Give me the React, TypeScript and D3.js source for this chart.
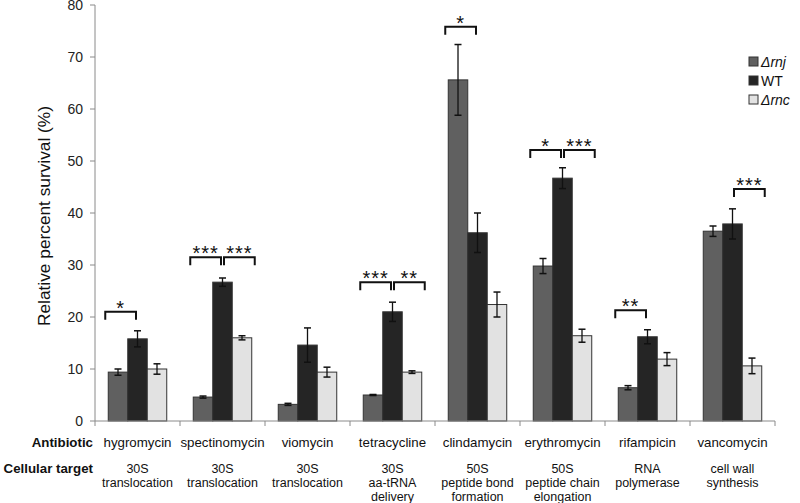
import * as d3 from 'd3'

// antibiotics along the x axis
const antibiotics = ['hygromycin', 'spectinomycin', 'viomycin', 'tetracycline', 'clindamycin', 'erythromycin', 'rifampicin', 'vancomycin']
const targets = [
  ['30S', 'translocation'],
  ['30S', 'translocation'],
  ['30S', 'translocation'],
  ['30S', 'aa-tRNA', 'delivery'],
  ['50S', 'peptide bond', 'formation'],
  ['50S', 'peptide chain', 'elongation'],
  ['RNA', 'polymerase'],
  ['cell wall', 'synthesis'],
]

const strains = ['rnj', 'WT', 'rnc']
const strainColors = ['#606060', '#252525', '#e2e2e2']

// mean survival (%) per strain
const rnjValues = [9.4, 4.6, 3.2, 5.0, 65.6, 29.8, 6.4, 36.5]
const wtValues = [15.8, 26.7, 14.6, 21.0, 36.2, 46.7, 16.2, 37.9]
const rncValues = [10.0, 16.0, 9.4, 9.4, 22.4, 16.4, 11.9, 10.6]

// error (+/-) per strain
const rnjErrors = [0.6, 0.2, 0.2, 0.1, 6.8, 1.45, 0.4, 1.0]
const wtErrors = [1.55, 0.8, 3.3, 1.85, 3.8, 2.0, 1.35, 2.9]
const rncErrors = [1.0, 0.4, 0.95, 0.25, 2.4, 1.25, 1.25, 1.5]

// significance brackets: group index, side (L = rnj vs WT, R = WT vs rnc), height, label
const brackets: [number, 'L' | 'R', number, string][] = [
  [0, 'L', 21.0, '*'],
  [1, 'L', 31.5, '***'],
  [1, 'R', 31.5, '***'],
  [3, 'L', 26.7, '***'],
  [3, 'R', 26.7, '**'],
  [4, 'L', 75.8, '*'],
  [5, 'L', 52.1, '*'],
  [5, 'R', 52.1, '***'],
  [6, 'L', 21.3, '**'],
  [7, 'R', 44.6, '***'],
]

const yTicks = [0, 10, 20, 30, 40, 50, 60, 70, 80]

const values = [rnjValues, wtValues, rncValues]
const errors = [rnjErrors, wtErrors, rncErrors]

export default function App() {
  const left = 95
  const right = 775
  const top = 5
  const bottom = 421
  const font = '"Liberation Sans", Arial, sans-serif'

  const x = d3.scaleBand<string>().domain(antibiotics).range([left, right]).paddingInner(0).paddingOuter(0)
  const inner = d3.scaleBand<string>().domain(strains).range([0, x.bandwidth()]).paddingOuter(0.68).paddingInner(0)
  const y = d3.scaleLinear().domain([0, 80]).range([bottom, top])
  const bw = inner.bandwidth()

  return (
    <svg width={800} height={503} style={{ position: 'absolute', left: 0, top: 0, background: '#fff' }} fontFamily={font}>
      {/* y axis */}
      <line x1={left} x2={left} y1={top} y2={bottom} stroke="#8a8a8a" strokeWidth={1} />
      {yTicks.map(t => (
        <g key={t}>
          <line x1={left - 5} x2={left} y1={y(t)} y2={y(t)} stroke="#8a8a8a" />
          <text x={left - 12} y={y(t) + 5} textAnchor="end" fontSize={14} fill="#222">{t}</text>
        </g>
      ))}
      <text transform={`translate(50,216) rotate(-90)`} textAnchor="middle" fontSize={17.3} fill="#111">
        Relative percent survival (%)
      </text>

      {/* bars */}
      {antibiotics.map((a, i) => (
        <g key={a} transform={`translate(${x(a)},0)`}>
          {strains.map((s, k) => {
            const v = values[k][i]
            const e = errors[k][i]
            const bx = inner(s)!
            const cx = bx + bw / 2
            return (
              <g key={s}>
                <rect x={bx} y={y(v)} width={bw} height={y(0) - y(v)} fill={strainColors[k]} stroke="#333" strokeWidth={1} />
                <line x1={cx} x2={cx} y1={y(v + e)} y2={y(v - e)} stroke="#111" strokeWidth={1.3} />
                <line x1={cx - 3.5} x2={cx + 3.5} y1={y(v + e)} y2={y(v + e)} stroke="#111" strokeWidth={1.5} />
                <line x1={cx - 3.5} x2={cx + 3.5} y1={y(v - e)} y2={y(v - e)} stroke="#111" strokeWidth={1.5} />
              </g>
            )
          })}
        </g>
      ))}

      {/* x axis */}
      <line x1={left} x2={right} y1={bottom} y2={bottom} stroke="#8a8a8a" />
      {antibiotics.concat(['']).map((a, i) => {
        const tx = i < antibiotics.length ? x(a)! : right
        return <line key={i} x1={tx} x2={tx} y1={bottom} y2={bottom + 5} stroke="#8a8a8a" />
      })}

      {/* significance brackets */}
      {brackets.map(([g, side, h, label], i) => {
        const gx = x(antibiotics[g])!
        const wtCenter = gx + inner('WT')! + bw / 2
        const x0 = side === 'L' ? gx + inner('rnj')! - 3 : wtCenter + 1.5
        const x1 = side === 'L' ? wtCenter - 1.5 : gx + inner('rnc')! + bw + 3
        const by = y(h)
        return (
          <g key={i}>
            <path d={`M${x0},${by + 8}V${by}H${x1}V${by + 8}`} fill="none" stroke="#111" strokeWidth={2} />
            <text x={(x0 + x1) / 2} y={by + 3} textAnchor="middle" fontSize={20} fill="#111" letterSpacing={1}>{label}</text>
          </g>
        )
      })}

      {/* category labels */}
      <text x={93} y={447} textAnchor="end" fontSize={13.3} fontWeight="bold" fill="#111">Antibiotic</text>
      <text x={93} y={473} textAnchor="end" fontSize={13.3} fontWeight="bold" fill="#111">Cellular target</text>
      {antibiotics.map((a, i) => (
        <g key={a}>
          <text x={x(a)! + x.bandwidth() / 2} y={447} textAnchor="middle" fontSize={13.3} fill="#111">{a}</text>
          {targets[i].map((line, j) => (
            <text key={j} x={x(a)! + x.bandwidth() / 2} y={473 + j * 14} textAnchor="middle" fontSize={12.5} fill="#111">{line}</text>
          ))}
        </g>
      ))}

      {/* legend */}
      {strains.map((s, k) => (
        <g key={s} transform={`translate(749,${57 + k * 19})`}>
          <rect x={0} y={0} width={9} height={9} fill={strainColors[k]} stroke="#333" />
          <text x={12} y={10} fontSize={14} fill="#111" fontStyle={s === 'WT' ? 'normal' : 'italic'}>
            {s === 'WT' ? 'WT' : `Δ${s}`}
          </text>
        </g>
      ))}
    </svg>
  )
}
